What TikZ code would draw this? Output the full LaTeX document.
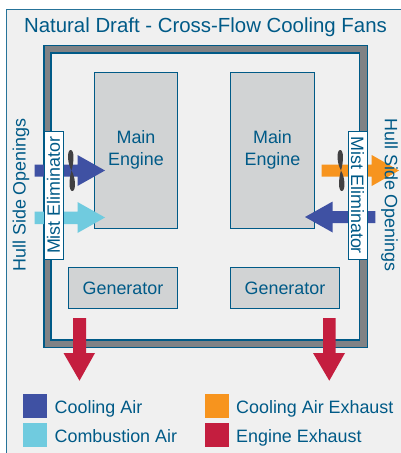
\documentclass[tikz,border=0pt]{standalone}
\usepackage{fontspec}
\setmainfont{Liberation Sans}
\definecolor{bgc}{HTML}{F0F0F0}
\definecolor{linec}{HTML}{005A87}
\definecolor{hullc}{HTML}{808285}
\definecolor{engc}{HTML}{D1D3D4}
\definecolor{coolc}{HTML}{3F51A3}
\definecolor{combc}{HTML}{70CBDF}
\definecolor{orgc}{HTML}{F7941E}
\definecolor{redc}{HTML}{C41E3F}
\definecolor{fanc}{HTML}{414042}
\tikzset{
  box/.style={draw=linec,line width=1pt,fill=engc,inner sep=0pt,align=center,text=linec},
  lab/.style={text=linec,inner sep=0pt,font=\fontsize{17.9}{22}\selectfont},
  leg/.style={text=linec,inner sep=0pt,anchor=base west,font=\fontsize{17.9}{22}\selectfont},
  mist/.style={draw=linec,line width=1pt,fill=white,inner sep=0pt,text=linec,minimum width=128pt,minimum height=19pt,font=\fontsize{17.9}{22}\selectfont},
  swatch/.style={minimum size=24pt,inner sep=0pt,anchor=north west},
  pics/fan/.style={code={
    \fill[fanc] (0,0) .. controls (-4.5,-8) and (-4.5,-20.5) .. (-0.8,-20.5)
      .. controls (3,-20.5) and (2.5,-8) .. (0,0)
      .. controls (-2.5,8) and (-3,20.5) .. (0.8,20.5)
      .. controls (4.5,20.5) and (4.5,8) .. (0,0) -- cycle;
  }}
}
\begin{document}
\begin{tikzpicture}[x=1pt,y=-1pt]
\useasboundingbox (0,0) rectangle (401,453);
% panel
\path[fill=white] (0,0) rectangle (401,453);
\draw[linec!85!white,line width=1pt,fill=bgc] (402,9.5) -- (6.5,9.5) -- (6.5,454) -- (402,454);
% hull
\path[fill=hullc,even odd rule] (44,45.5) rectangle (367.5,347.5) (51,53) rectangle (359.5,340);
\draw[linec,line width=1.2pt] (44,45.5) rectangle (367.5,347.5);
\draw[linec,line width=1.2pt] (51,53) rectangle (359.5,340);
% engines and generators
\node[box,minimum width=83.5pt,minimum height=156pt] (me1) at (135.75,150) {};
\node[box,minimum width=84pt,minimum height=156pt] (me2) at (272.5,150) {};
\node[lab,align=center] (me1t) at (136,150) {Main\\Engine};
\node[lab,align=center] (me2t) at (272.5,150) {Main\\Engine};
\node[box,minimum width=109pt,minimum height=41pt,font=\fontsize{17.9}{22}\selectfont] (g1) at (123,288) {Generator};
\node[box,minimum width=109pt,minimum height=41pt,font=\fontsize{17.9}{22}\selectfont] (g2) at (285,288) {Generator};
% air arrows
\fill[coolc] (34.5,164.5) -- (77.5,164.5) -- (77.5,155) -- (105,170.5) -- (77.5,186) -- (77.5,176.5) -- (34.5,176.5) -- cycle;
\fill[combc] (34.5,211.7) -- (77.5,211.7) -- (77.5,202) -- (105,217.5) -- (77.5,233) -- (77.5,224) -- (34.5,224) -- cycle;
\fill[orgc] (321.7,164.5) -- (371.7,164.5) -- (371.7,155) -- (399,170.5) -- (371.7,186) -- (371.7,176.5) -- (321.7,176.5) -- cycle;
\fill[coolc] (375.3,211) -- (332.7,211) -- (332.7,201.5) -- (305,217) -- (332.7,232.5) -- (332.7,223) -- (375.3,223) -- cycle;
% exhaust arrows
\fill[redc] (73,318) -- (86,318) -- (86,353) -- (95,353) -- (79.5,380.7) -- (63.5,353) -- (73,353) -- cycle;
\fill[redc] (323,318) -- (335.7,318) -- (335.7,353) -- (345,353) -- (329.3,380.7) -- (313,353) -- (323,353) -- cycle;
% mist eliminators
\node[mist,rotate=90] (m1) at (53.5,195.3) {Mist Eliminator};
\node[mist,rotate=-90] (m2) at (357.5,195.3) {Mist Eliminator};
% fans
\pic at (71.5,170.5) {fan};
\pic at (341,170.5) {fan};
% texts
\node[lab,font=\fontsize{20.4}{24}\selectfont] (title) at (205.5,27.5) {Natural Draft - Cross-Flow Cooling Fans};
\node[lab,rotate=90] (h1) at (21,195) {Hull Side Openings};
\node[lab,rotate=-90] (h2) at (389.5,195) {Hull Side Openings};
% legend
\node[swatch,fill=coolc] (s1) at (23,394) {};
\node[swatch,fill=combc] (s2) at (23,423) {};
\node[swatch,fill=orgc] (s3) at (205,394) {};
\node[swatch,fill=redc] (s4) at (205,423) {};
\node[leg] (l1) at (54.5,413) {Cooling Air};
\node[leg] (l2) at (54.5,442) {Combustion Air};
\node[leg] (l3) at (236,413) {Cooling Air Exhaust};
\node[leg] (l4) at (236,442) {Engine Exhaust};
\end{tikzpicture}
\end{document}
